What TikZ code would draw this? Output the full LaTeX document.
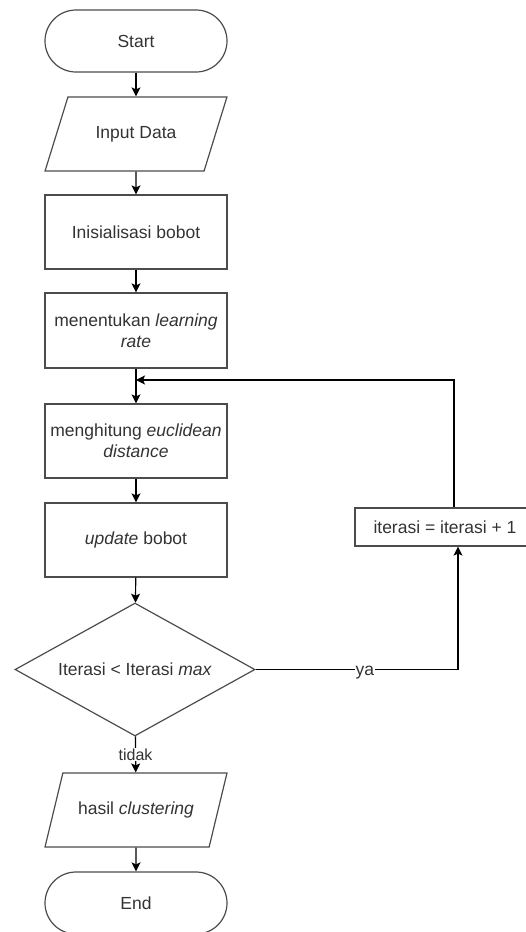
\documentclass[tikz,border=0pt]{standalone}
\usepackage{fontspec}
\setmainfont{Liberation Sans}
\usepackage{tikz}
\usetikzlibrary{shapes.geometric,arrows.meta}

\begin{document}
\begin{tikzpicture}
[every node/.style={inner sep=0pt, font=\fontsize{17.5}{21}\selectfont, text=black!80},
 terminal/.style={rectangle, rounded corners=31pt, minimum width=182pt, minimum height=62pt, line width=1.2pt, draw=black!70},
 io/.style={trapezium, trapezium left angle=49.1, trapezium right angle=130.9, trapezium stretches=true, minimum width=182pt, minimum height=74pt, line width=1.2pt, draw=black!70},
 process/.style={rectangle, minimum width=182pt, minimum height=74pt, align=center, line width=1.2pt, draw=black!70},
 decision/.style={diamond, aspect=1.8, minimum width=240pt, minimum height=133pt, line width=1.2pt, draw=black!70},
 flow/.style={line width=1.2pt, ->, color=black},
 >={Stealth[length=9pt, width=9pt, inset=2pt]}]
\useasboundingbox (0pt, 0pt) rectangle (526pt, -932pt);
\node (start) [terminal] at (136pt, -41pt) {Start};
\node (input) [io] at (136pt, -134pt) {Input Data};
\node (init) [process] at (136pt, -232pt) {Inisialisasi bobot};
\node (rate) [process, minimum height=75pt] at (136pt, -330.5pt) {menentukan \textit{learning}\\\textit{rate}};
\node (dist) [process] at (136pt, -441pt) {menghitung \textit{euclidean}\\\textit{distance}};
\node (upd) [process] at (136pt, -540pt) {\textit{update} bobot};
\node (cond) [decision] at (135pt, -669.5pt) {Iterasi < Iterasi \textit{max}};
\node (inc) [process, minimum width=180pt, minimum height=38pt] at (445pt, -527pt) {iterasi = iterasi + 1};
\node (out) [io] at (136pt, -810pt) {hasil \textit{clustering}};
\node (end) [terminal] at (136pt, -903pt) {End};
\coordinate (join) at (136pt, -380pt);
\draw [flow] (start) to (input);
\draw [flow] (input) to (init);
\draw [flow] (init) to (rate);
\draw [flow] (rate) to (dist);
\draw [flow] (dist) to (upd);
\draw [flow] (upd) to (cond);
\draw [flow] (cond.east) -| node [pos=0.27, fill=white, inner sep=1pt, yshift=-3pt] {ya} ([xshift=13pt]inc.south);
\draw [flow] ([xshift=9pt]inc.north) |- (join);
\draw [flow] (cond) to node [midway, fill=white, inner sep=1pt, font=\fontsize{16}{19}\selectfont] {tidak} (out);
\draw [flow] (out) to (end);
\end{tikzpicture}
\end{document}
